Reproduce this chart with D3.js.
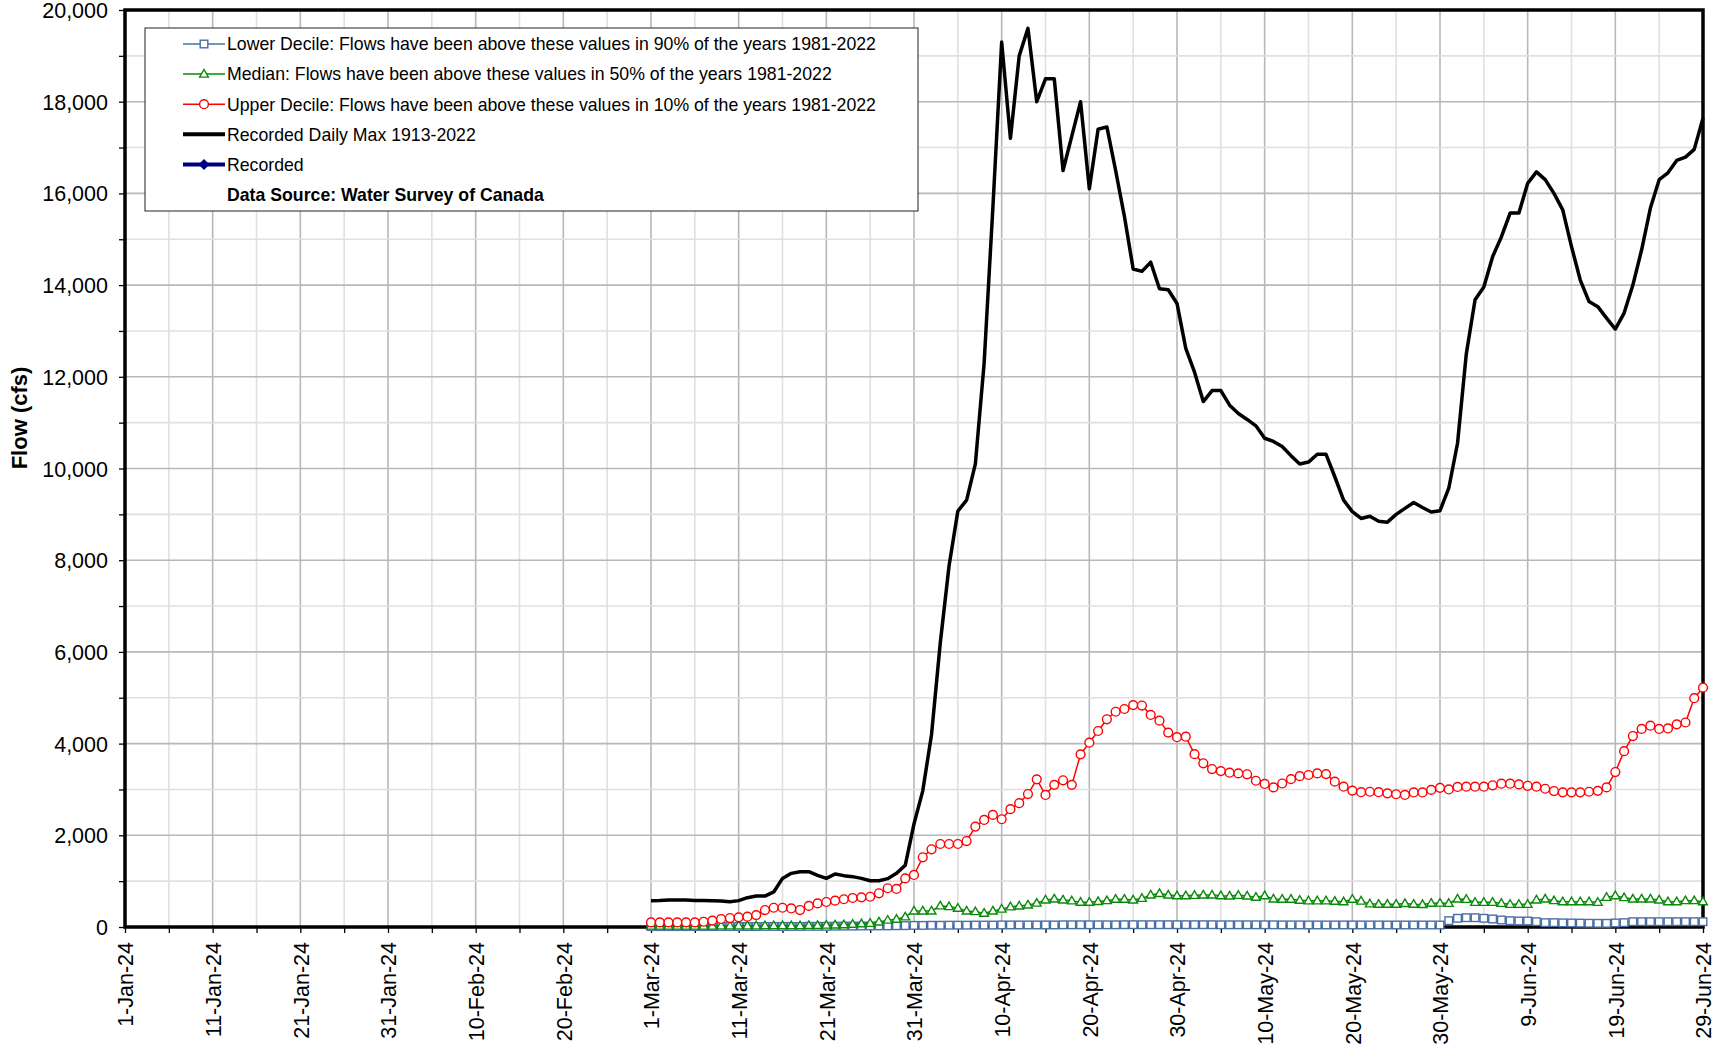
<!DOCTYPE html>
<meta http-equiv="content-type" content="text/html; charset=utf-8" />
<html lang="en">
<head>
<title>Flow chart</title>
<script src="https://d3js.org/d3.v7.min.js"></script>
<style>
body { margin: 0; background: #fff; }
svg { display: block; }
text { font-family: Arial, "Liberation Sans", sans-serif; }
</style>
</head>
<body>
<div id="plot"></div>
</body>
<script>
var width = 1722, height = 1046;
var plotLeft = 125, plotRight = 1703, plotTop = 10, plotBottom = 927;

// daily values from 1-Mar-24 to 29-Jun-24 (121 days)
var lowerDecile = [
  10,10,10,10,10,10,10,10,10,10,
  10,10,10,12,12,12,12,12,15,15,
  15,18,20,20,22,22,25,25,28,30,
  35,35,38,38,40,40,40,42,42,42,
  45,45,45,45,45,45,45,48,48,48,
  48,48,48,48,50,50,50,50,50,50,
  50,50,50,50,50,48,48,48,48,48,
  48,48,46,46,46,45,45,45,45,45,
  45,45,45,45,44,44,44,44,44,44,
  44,138,190,203,203,190,175,153,138,131,
  131,116,95,95,90,88,85,82,80,80,
  88,95,116,116,116,116,116,116,116,116,116
];
var median = [
  20,20,20,20,20,20,20,20,25,25,
  25,25,25,30,30,30,30,30,35,35,
  40,45,50,60,70,80,110,150,170,220,
  350,350,350,460,445,410,350,335,300,350,
  390,440,458,480,520,590,610,590,570,540,
  540,555,575,605,605,590,625,697,730,697,
  680,680,690,697,697,680,675,690,675,650,
  680,610,605,605,585,570,570,570,560,550,
  605,565,505,495,495,495,512,497,490,518,
  520,516,610,603,538,538,538,516,494,494,
  494,589,610,575,552,552,552,552,538,647,
  683,640,610,610,610,589,552,552,575,575,552
];
var upperDecile = [
  100,100,100,100,100,100,115,140,175,195,
  210,225,260,370,420,420,405,370,460,515,
  545,575,605,633,647,660,735,845,830,1060,
  1135,1520,1695,1810,1810,1810,1875,2190,2335,2445,
  2350,2570,2700,2900,3220,2880,3100,3200,3100,3765,
  4020,4275,4530,4695,4755,4840,4830,4625,4500,4240,
  4140,4150,3770,3570,3445,3400,3365,3350,3330,3190,
  3120,3045,3130,3225,3290,3315,3350,3335,3170,3060,
  2975,2940,2950,2940,2915,2895,2880,2935,2935,2990,
  3035,3000,3055,3060,3060,3060,3090,3125,3125,3110,
  3080,3060,3015,2965,2937,2937,2937,2950,2970,3045,
  3380,3835,4165,4320,4390,4320,4330,4420,4460,4990,5220
];
var dailyMax = [
  575,580,590,590,590,580,580,575,567,553,
  575,640,675,675,765,1060,1170,1207,1207,1127,
  1060,1156,1120,1098,1060,1010,1010,1055,1170,1345,
  2250,2970,4200,6200,7880,9070,9310,10100,12300,15700,
  19300,17200,19000,19600,18000,18500,18500,16500,17250,18000,
  16100,17400,17450,16500,15500,14350,14300,14500,13920,13900,
  13600,12620,12100,11460,11700,11700,11380,11200,11070,10930,
  10660,10590,10480,10280,10100,10140,10310,10310,9820,9310,
  9060,8910,8960,8850,8830,9000,9130,9260,9150,9050,
  9080,9570,10550,12500,13680,13960,14620,15050,15570,15570,
  16220,16470,16300,16000,15640,14840,14110,13640,13530,13280,
  13040,13390,14000,14770,15680,16300,16450,16720,16790,16960,17640
];
var recorded = [];

var legendLabels = [
  "Lower Decile: Flows have been above these values in 90% of the years 1981-2022",
  "Median: Flows have been above these values in 50% of the years 1981-2022",
  "Upper Decile: Flows have been above these values in 10% of the years 1981-2022",
  "Recorded Daily Max 1913-2022",
  "Recorded",
  "Data Source: Water Survey of Canada"
];
var yTitle = "Flow (cfs)";

var startDate = new Date(Date.UTC(2024, 0, 1));
var endDate = new Date(Date.UTC(2024, 5, 29));
var seriesStart = new Date(Date.UTC(2024, 2, 1));

var svg = d3.select("#plot").append("svg")
  .attr("width", width).attr("height", height);

var x = d3.scaleUtc().domain([startDate, endDate]).range([plotLeft, plotRight]);
var y = d3.scaleLinear().domain([0, 20000]).range([plotBottom, plotTop]);

function toPts(arr) {
  return arr.map(function(v, i) { return {date: d3.utcDay.offset(seriesStart, i), v: v}; });
}

// grid
var xTicks = d3.range(0, 181, 5).map(function(i) { return d3.utcDay.offset(startDate, i); });
var xLabelTicks = xTicks.filter(function(d, i) { return i % 2 == 0; });
var yMinor = d3.range(0, 20001, 1000);

svg.append("g").selectAll("line")
  .data(xTicks.slice(1, -1))
  .enter().append("line")
  .attr("x1", d => x(d)).attr("x2", d => x(d))
  .attr("y1", plotTop).attr("y2", plotBottom)
  .attr("stroke", (d, i) => (i % 2 == 1) ? "#b8b8b8" : "#e0e0e0")
  .attr("stroke-width", 1.6);

svg.append("g").selectAll("line")
  .data(yMinor.slice(1, -1))
  .enter().append("line")
  .attr("x1", plotLeft).attr("x2", plotRight)
  .attr("y1", d => y(d)).attr("y2", d => y(d))
  .attr("stroke", d => (d % 2000 == 0) ? "#b8b8b8" : "#e0e0e0")
  .attr("stroke-width", 1.6);

// axes
var yAxis = d3.axisLeft(y).tickValues(yMinor).tickSize(6)
  .tickFormat(d => d % 2000 == 0 ? d3.format(",")(d) : "");
var yg = svg.append("g").attr("transform", "translate(" + plotLeft + ",0)").call(yAxis);
yg.select(".domain").remove();
yg.selectAll("line").attr("stroke", "#000").attr("stroke-width", 1.3);
yg.selectAll("text").attr("font-size", "21.5px").attr("fill", "#000")
  .attr("x", -17).attr("dy", "0.35em").style("font-family", "Arial, 'Liberation Sans', sans-serif");

var fmt = d3.utcFormat("%-d-%b-%y");
var xAxis = d3.axisBottom(x).tickValues(xTicks).tickSize(6)
  .tickFormat(d => xLabelTicks.some(t => +t == +d) ? fmt(d) : "");
var xg = svg.append("g").attr("transform", "translate(0," + plotBottom + ")").call(xAxis);
xg.select(".domain").remove();
xg.selectAll("line").attr("stroke", "#000").attr("stroke-width", 1.3);
xg.selectAll("text").attr("font-size", "21.5px").attr("fill", "#000")
  .style("font-family", "Arial, 'Liberation Sans', sans-serif")
  .attr("transform", "rotate(-90)")
  .attr("text-anchor", "end")
  .attr("x", -15).attr("y", 0).attr("dy", "0.36em");

svg.append("text")
  .attr("transform", "translate(27,418) rotate(-90)")
  .attr("text-anchor", "middle")
  .attr("font-size", "22px").attr("font-weight", "bold")
  .text(yTitle);

// frame
svg.append("rect")
  .attr("x", plotLeft).attr("y", plotTop)
  .attr("width", plotRight - plotLeft).attr("height", plotBottom - plotTop)
  .attr("fill", "none").attr("stroke", "#000").attr("stroke-width", 3.5);

var line = d3.line().x(d => x(d.date)).y(d => y(d.v));

var blue = "#4a6fa8", green = "#0a8a0a", red = "#ff0000", navy = "#000080";

function markers(sel, type, color) {
  if (type == "circle") {
    sel.append("circle").attr("r", 4.4)
      .attr("fill", "#fff").attr("stroke", color).attr("stroke-width", 1.4);
  } else if (type == "square") {
    sel.append("rect").attr("x", -3.8).attr("y", -3.8).attr("width", 7.6).attr("height", 7.6)
      .attr("fill", "#fff").attr("stroke", color).attr("stroke-width", 1.4);
  } else if (type == "triangle") {
    sel.append("path").attr("d", "M0,-4.6L4.4,3L-4.4,3Z")
      .attr("fill", "#fff").attr("stroke", color).attr("stroke-width", 1.4);
  } else if (type == "diamond") {
    sel.append("path").attr("d", "M0,-5.5L5.5,0L0,5.5L-5.5,0Z").attr("fill", color);
  }
}

function drawSeries(arr, color, lw, marker) {
  var pts = toPts(arr);
  svg.append("path").datum(pts)
    .attr("d", line).attr("fill", "none")
    .attr("stroke", color).attr("stroke-width", lw)
    .attr("stroke-linejoin", "round");
  if (marker) {
    var g = svg.append("g").selectAll("g").data(pts).enter().append("g")
      .attr("transform", d => "translate(" + x(d.date) + "," + y(d.v) + ")");
    markers(g, marker, color);
  }
}

drawSeries(lowerDecile, blue, 1.5, "square");
drawSeries(median, green, 1.5, "triangle");
drawSeries(upperDecile, red, 1.5, "circle");
drawSeries(dailyMax, "#000", 3.5, null);
if (recorded.length) drawSeries(recorded, navy, 3.5, "diamond");

// legend
var lg = svg.append("g");
lg.append("rect").attr("x", 145).attr("y", 28).attr("width", 773).attr("height", 183)
  .attr("fill", "#fff").attr("stroke", "#222").attr("stroke-width", 1);

var legendStyle = [
  {color: blue, lw: 1.5, marker: "square"},
  {color: green, lw: 1.5, marker: "triangle"},
  {color: red, lw: 1.5, marker: "circle"},
  {color: "#000", lw: 4, marker: null},
  {color: navy, lw: 4, marker: "diamond"},
  null
];
legendLabels.forEach(function(lab, i) {
  var cy = 44 + i * 30.1;
  var st = legendStyle[i];
  if (st) {
    lg.append("line").attr("x1", 183).attr("x2", 225).attr("y1", cy).attr("y2", cy)
      .attr("stroke", st.color).attr("stroke-width", st.lw);
    if (st.marker) {
      var m = lg.append("g").attr("transform", "translate(204," + cy + ")");
      markers(m, st.marker, st.color);
    }
  }
  lg.append("text").attr("x", 227).attr("y", cy).attr("dy", "0.36em")
    .attr("font-size", "17.7px")
    .attr("font-weight", st ? "normal" : "bold")
    .text(lab);
});
</script>
</html>
